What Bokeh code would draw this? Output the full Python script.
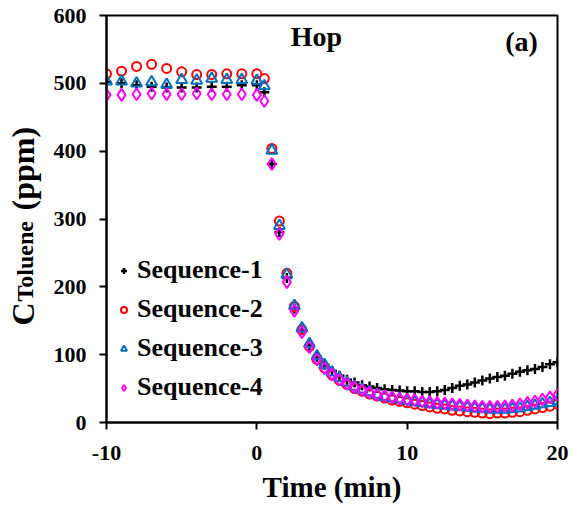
import math
from bokeh.plotting import figure
from bokeh.layouts import row
from bokeh.models import Label, Legend, LegendItem, Range1d, FixedTicker
from bokeh.embed import file_html
from bokeh.resources import INLINE

# ---- data ----
t_pre = [-10, -9, -8, -7, -6, -5, -4, -3, -2, -1]
t_post = [i * 0.5 for i in range(41)]  # 0 .. 20 step 0.5

seq1_pre = [502, 500, 497, 495, 494, 494, 494, 495, 495, 497]
seq2_pre = [514, 518, 525, 528, 522, 517, 513, 513, 514, 514]
seq3_pre = [503, 503, 500, 502, 498, 505, 504, 507, 505, 505]
seq4_pre = [483, 483, 484, 485, 484, 484, 485, 484, 484, 484]

seq1_post = [497, 487, 381, 281, 213, 168, 136, 114, 97, 85, 76, 69, 63, 59, 55, 53,
             51, 49, 48, 47, 46, 46, 45, 45, 46, 48, 51, 54, 56, 59, 62, 65, 67, 69,
             72, 75, 77, 79, 82, 86, 89]
seq2_post = [514, 507, 404, 297, 220, 171, 137, 112, 93, 80, 70, 62, 56, 50, 46, 42,
             39, 36, 33, 31, 29, 27, 25, 23, 21, 20, 18, 17, 16, 15, 14, 13, 14, 14,
             15, 16, 18, 20, 22, 24, 27]
seq3_post = [504, 496, 401, 290, 218, 172, 139, 116, 98, 85, 74, 66, 59, 53, 49, 45,
             41, 38, 36, 34, 32, 30, 29, 27, 26, 25, 24, 23, 22, 21, 20, 19, 19, 19,
             20, 21, 23, 25, 27, 29, 32]
seq4_post = [483, 474, 381, 278, 207, 165, 133, 111, 93, 80, 71, 63, 57, 52, 48, 44,
             41, 39, 37, 35, 34, 33, 31, 30, 29, 28, 27, 26, 25, 24, 23, 23, 23, 24,
             25, 27, 29, 31, 34, 37, 41]

series_names = ["Sequence-1", "Sequence-2", "Sequence-3", "Sequence-4"]
x_ticks = [-10, 0, 10, 20]
x_tick_labels = {-10: "-10", 0: "0", 10: "10", 20: "20"}
y_ticks = [0, 100, 200, 300, 400, 500, 600]

time = t_pre + t_post
series = [seq1_pre + seq1_post, seq2_pre + seq2_post,
          seq3_pre + seq3_post, seq4_pre + seq4_post]

FONT = "Liberation Serif"
H = 509
LW = 50  # width of the strip that carries the y-axis title

# ---- strip with the rotated y-axis title ----
lab = figure(width=LW, height=H, output_backend="svg", toolbar_location=None,
             x_range=Range1d(0, LW), y_range=Range1d(0, H),
             min_border=0, min_border_left=0, min_border_right=0,
             min_border_top=15, min_border_bottom=H - 422)
lab.axis.visible = False
lab.xgrid.visible = False
lab.ygrid.visible = False
lab.outline_line_color = None
lab_kw = dict(x_units="screen", y_units="screen", angle=math.pi / 2,
              text_font=FONT, text_font_style="bold", text_color="black",
              text_align="left", text_baseline="alphabetic")
lab.add_layout(Label(x=22, y=97, text="C", text_font_size="32px", **lab_kw))
lab.add_layout(Label(x=24, y=121, text="Toluene", text_font_size="24px", **lab_kw))
lab.add_layout(Label(x=22, y=212, text="(ppm)", text_font_size="32px", **lab_kw))

# ---- main plot ----
p = figure(width=571 - LW, height=H, output_backend="svg", toolbar_location=None,
           x_range=Range1d(-10, 20), y_range=Range1d(0, 600),
           min_border_left=106 - LW, min_border_right=14,
           min_border_top=15, min_border_bottom=H - 422)
p.xgrid.visible = False
p.ygrid.visible = False
p.outline_line_color = "black"
p.outline_line_width = 2
p.outline_line_alpha = 1

styles = [
    dict(marker="cross", color="black", size=10, line_width=2.5),
    dict(marker="circle", color="#FF0000", size=9, line_width=2),
    dict(marker="triangle", color="#0070C0", size=11, line_width=2),
    dict(marker="diamond", color="#FF00FF", size=12, line_width=2),
]

items = []
for name, vals, st in zip(series_names, series, styles):
    r = p.scatter(time, vals, marker=st["marker"], size=st["size"],
                  line_color=st["color"], fill_color=None, line_width=st["line_width"])
    items.append(LegendItem(label=name, renderers=[r]))

legend = Legend(items=items, location=(10, 20), label_text_font=FONT,
                label_text_font_style="bold", label_text_font_size="26px",
                label_text_color="black",
                label_height=30, glyph_height=15, glyph_width=15, spacing=9,
                label_standoff=6, padding=0, margin=0,
                border_line_color=None, background_fill_alpha=0)
p.add_layout(legend, "center")

for ax in (p.xaxis[0], p.yaxis[0]):
    ax.axis_line_width = 2
    ax.major_tick_line_width = 2
    ax.major_tick_out = 7
    ax.major_tick_in = 0
    ax.minor_tick_line_color = None
    ax.major_label_text_font = FONT
    ax.major_label_text_font_style = "bold"
    ax.major_label_text_font_size = "22px"
    ax.major_label_text_color = "black"

p.xaxis.ticker = FixedTicker(ticks=x_ticks)
p.xaxis.major_label_overrides = x_tick_labels
p.yaxis.ticker = FixedTicker(ticks=y_ticks)
p.xaxis.major_label_standoff = 16
p.yaxis.major_label_standoff = 13
p.xaxis.axis_label = "Time (min)"
p.xaxis.axis_label_text_font = FONT
p.xaxis.axis_label_text_font_style = "bold"
p.xaxis.axis_label_text_font_size = "29px"
p.xaxis.axis_label_text_color = "black"
p.xaxis.axis_label_standoff = 8

txt_kw = dict(x_units="screen", y_units="screen", text_font=FONT,
              text_font_style="bold", text_color="black",
              text_align="center", text_baseline="alphabetic")
p.add_layout(Label(x=210, y=386, text="Hop", text_font_size="28px", **txt_kw))
p.add_layout(Label(x=415, y=381, text="(a)", text_font_size="28px", **txt_kw))

layout = row(lab, p)
open("out.html", "w").write(file_html(layout, INLINE))
